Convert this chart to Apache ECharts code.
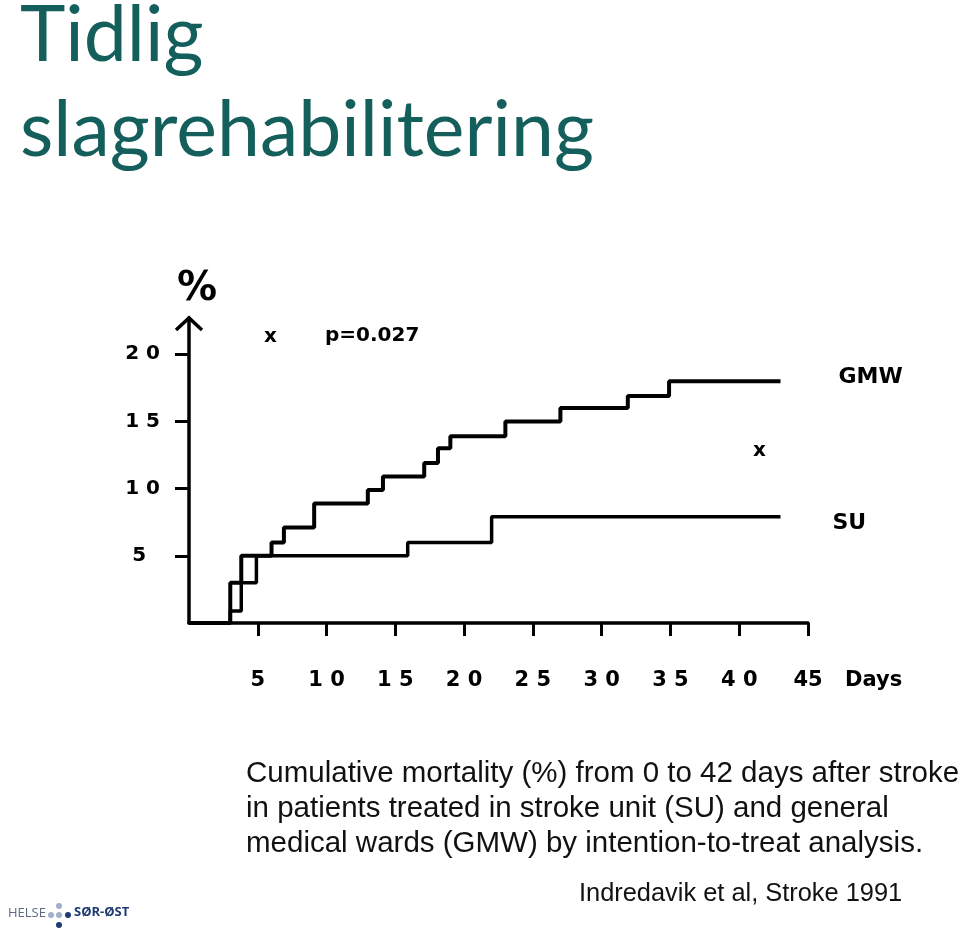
<!DOCTYPE html>
<html>
<head>
<meta charset="utf-8">
<script src="https://cdn.jsdelivr.net/npm/echarts@6/dist/echarts.min.js"></script>
<style>
html,body{margin:0;padding:0;background:#fff;}
#c{width:960px;height:936px;}
</style>
</head>
<body>
<div id="c"></div>
<script>
// ---- data ----
var gmwDays = [0, 3, 3.8, 6, 6.9, 9.1, 13, 14.1, 17.1, 18.1, 19, 23, 27, 31.9, 34.9, 43];
var gmwPct  = [0, 3, 5, 6, 7.1, 8.9, 9.9, 10.9, 11.9, 13, 13.9, 15, 16, 16.9, 18, 18];
var suDays  = [0, 3, 3.8, 4.9, 15.9, 22, 43];
var suPct   = [0, 0.9, 3, 5, 6, 7.9, 7.9];
var xTickValues = [5, 10, 15, 20, 25, 30, 35, 40, 45];
var xTickLabels = ['5', '1 0', '1 5', '2 0', '2 5', '3 0', '3 5', '4 0', '45'];
var yTickValues = [5, 10, 15, 20];
var yTickLabels = ['5  ', '1 0', '1 5', '2 0'];
var titleLines = ['Tidlig', 'slagrehabilitering'];
var captionLines = [
  'Cumulative mortality (%) from 0 to 42 days after stroke',
  'in patients treated in stroke unit (SU) and general',
  'medical wards (GMW) by intention-to-treat analysis.'
];
var citation = 'Indredavik et al, Stroke 1991';

function pairs(xs, ys) { return xs.map(function (x, i) { return [x, ys[i]]; }); }
function lab(values, labels) {
  return function (v) { var i = values.indexOf(v); return i >= 0 ? labels[i] : ''; };
}

var chart = echarts.init(document.getElementById('c'), null, {renderer: 'canvas'});
var yMax = 22.7;
var chartFont = 'DejaVu Sans';
var labelStyle = {fontFamily: chartFont, fontWeight: 'bold', fontSize: 20, color: '#000'};

var graphics = [];
titleLines.forEach(function (t, i) {
  graphics.push({type: 'text', left: 20, top: -2 + i * 95,
    style: {text: t, font: '77px Lato', fill: '#145f5b'}});
});
captionLines.forEach(function (t, i) {
  graphics.push({type: 'text', left: 246, top: 759 + i * 35,
    style: {text: t, font: '29.5px "Liberation Sans"', fill: '#111'}});
});
graphics.push({type: 'text', left: 579, top: 881, style: {text: citation, font: '25.4px "Liberation Sans"', fill: '#111'}});
// chart annotations
graphics.push({type: 'text', left: 177, top: 270, style: {text: '%', font: 'bold 40px "DejaVu Sans"', fill: '#000'}});
graphics.push({type: 'text', left: 264, top: 327, style: {text: 'x', font: 'bold 20px "DejaVu Sans"', fill: '#000'}});
graphics.push({type: 'text', left: 325, top: 326, style: {text: 'p=0.027', font: 'bold 20px "DejaVu Sans"', fill: '#000'}});
graphics.push({type: 'text', left: 753, top: 441, style: {text: 'x', font: 'bold 20px "DejaVu Sans"', fill: '#000'}});
// logo
graphics.push({type: 'text', left: 8, top: 907, style: {text: 'HELSE', font: '13px "Open Sans"', fill: '#5b6a86'}});
var lightDot = '#9fb0cc', navyDot = '#1d3a72';
[[51, 915, lightDot], [59, 915, lightDot], [68, 915, navyDot], [59, 906, lightDot], [59, 925, navyDot]].forEach(function (d) {
  graphics.push({type: 'circle', shape: {cx: d[0], cy: d[1], r: 3}, style: {fill: d[2]}});
});
graphics.push({type: 'text', left: 74, top: 906, style: {text: 'SØR-ØST', font: 'bold 13px "Open Sans"', fill: '#1d3a72'}});

var option = {
  backgroundColor: '#fff',
  animation: false,
  grid: {left: 189, right: 152, top: 318, bottom: 313, containLabel: false},
  xAxis: {
    type: 'value', min: 0, max: 45, interval: 5,
    splitLine: {show: false},
    axisLine: {show: true, lineStyle: {color: '#000', width: 3.5}},
    axisTick: {show: true, length: 13, customValues: xTickValues, lineStyle: {color: '#000', width: 3}},
    axisLabel: {customValues: xTickValues, formatter: lab(xTickValues, xTickLabels), margin: 47,
      fontFamily: chartFont, fontWeight: 'bold', fontSize: 21, color: '#000'},
    name: 'Days', nameLocation: 'end', nameGap: 37,
    nameTextStyle: {fontFamily: chartFont, fontWeight: 'bold', fontSize: 21, color: '#000',
      verticalAlign: 'top', padding: [47, 0, 0, 0]}
  },
  yAxis: {
    type: 'value', min: 0, max: yMax, interval: 5,
    splitLine: {show: false},
    axisLine: {show: true, onZero: false, lineStyle: {color: '#000', width: 3.5}},
    axisTick: {show: true, length: 14, customValues: yTickValues, lineStyle: {color: '#000', width: 3}},
    axisLabel: Object.assign({customValues: yTickValues, formatter: lab(yTickValues, yTickLabels), margin: 29}, labelStyle)
  },
  series: [
    {name: 'GMW', type: 'line', step: 'end', data: pairs(gmwDays, gmwPct), showSymbol: false, symbol: 'none',
      lineStyle: {color: '#000', width: 4},
      endLabel: {show: true, formatter: 'GMW', distance: 58, offset: [0, -4],
        fontFamily: chartFont, fontWeight: 'bold', fontSize: 22, color: '#000'}},
    {name: 'SU', type: 'line', step: 'end', data: pairs(suDays, suPct), showSymbol: false, symbol: 'none',
      lineStyle: {color: '#000', width: 3.5},
      endLabel: {show: true, formatter: 'SU', distance: 52, offset: [0, 6],
        fontFamily: chartFont, fontWeight: 'bold', fontSize: 22, color: '#000'}}
  ],
  graphic: graphics
};
chart.setOption(option);

// open arrow head at the top of the y axis
var tip = chart.convertToPixel({xAxisIndex: 0, yAxisIndex: 0}, [0, yMax]);
graphics.push({type: 'polyline', shape: {points: [[tip[0] - 13, tip[1] + 12], [tip[0], tip[1]], [tip[0] + 13, tip[1] + 12]]},
  style: {stroke: '#000', lineWidth: 3.5, fill: null}});
chart.setOption({graphic: graphics});
</script>
</body>
</html>
